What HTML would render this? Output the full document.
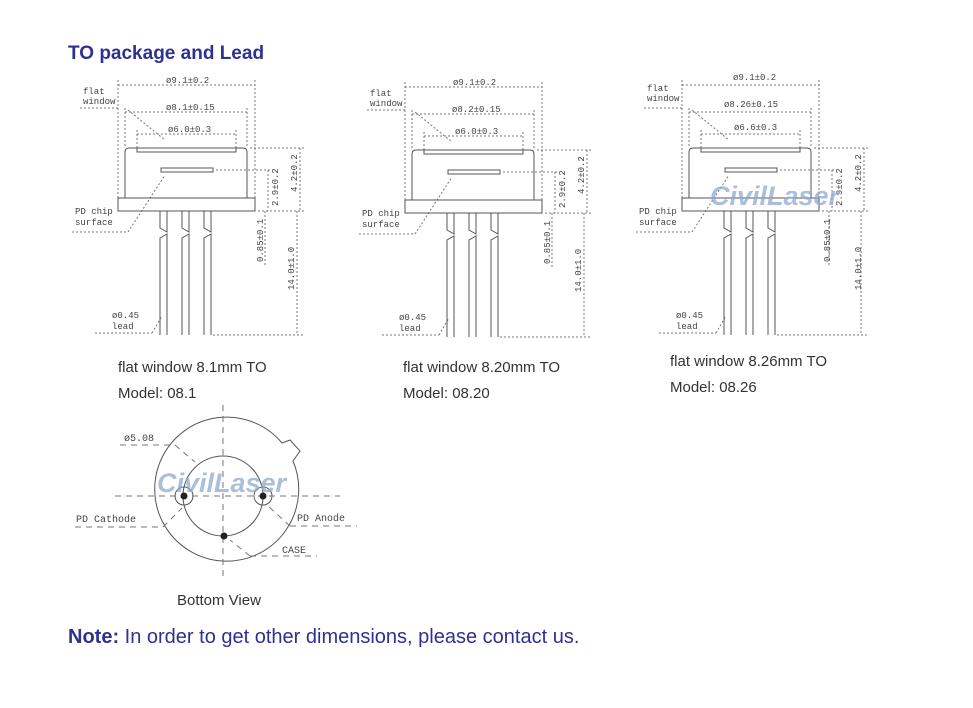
<!DOCTYPE html>
<html><head><meta charset="utf-8"><style>
body{margin:0;background:#fff;width:973px;height:708px;overflow:hidden;font-family:"Liberation Sans",sans-serif}
svg{position:absolute;left:0;top:0}
.t{font-family:"Liberation Mono",monospace;font-size:9px;fill:#444}
.c{font-family:"Liberation Sans",sans-serif;font-size:15px;fill:#333}
.wm{font-family:"Liberation Sans",sans-serif;font-size:27px;font-weight:bold;font-style:italic;fill:#8fa9cf;opacity:.75}
</style></head><body>
<svg width="973" height="708" viewBox="0 0 973 708">
<defs>
<g id="pkg" fill="none" stroke="#555" stroke-width="1">
 <g stroke-dasharray="2,2" stroke="#777">
  <line x1="118" y1="85" x2="255" y2="85"/><line x1="118" y1="80" x2="118" y2="198"/><line x1="255" y1="80" x2="255" y2="198"/>
  <line x1="125" y1="112" x2="247" y2="112"/><line x1="125" y1="108" x2="125" y2="148"/><line x1="247" y1="108" x2="247" y2="148"/>
  <line x1="137" y1="134" x2="236" y2="134"/><line x1="137" y1="130" x2="137" y2="148"/><line x1="236" y1="130" x2="236" y2="148"/>
  <line x1="80" y1="108" x2="118" y2="108"/><line x1="128" y1="110" x2="165" y2="140"/>
  <line x1="250" y1="148" x2="305" y2="148"/><line x1="216" y1="170" x2="272" y2="170"/><line x1="258" y1="211" x2="305" y2="211"/>
  <line x1="300" y1="148" x2="300" y2="211"/><line x1="268" y1="170" x2="268" y2="211"/>
  <line x1="265" y1="211" x2="265" y2="266"/><line x1="297" y1="211" x2="297" y2="335"/>
  <line x1="213" y1="335" x2="305" y2="335"/>
  <line x1="72" y1="232" x2="128" y2="232"/><line x1="128" y1="232" x2="165" y2="175"/>
  <line x1="95" y1="333" x2="152" y2="333"/><line x1="152" y1="333" x2="162" y2="316"/>
 </g>
 <path d="M125 198 V152 Q125 148 129 148 H243 Q247 148 247 152 V198"/>
 <rect x="137" y="148" width="99" height="4"/>
 <rect x="161" y="168" width="52" height="4"/>
 <rect x="118" y="198" width="137" height="13"/>
 <path d="M160 211V228l7 4V211M182 211V228l7 4V211M204 211V228l7 4V211"/>
 <path d="M160 335V238l7 -4V335M182 335V238l7 -4V335M204 335V238l7 -4V335"/>
</g>
</defs>
<text x="68" y="59" font-size="19" font-weight="bold" fill="#2e3192">TO package and Lead</text>

<use href="#pkg"/>
<use href="#pkg" transform="translate(287,2)"/>
<use href="#pkg" transform="translate(564,0)"/>

<g class="t">
<text x="83" y="94">flat</text><text x="83" y="104">window</text>
<text x="166" y="83">ø9.1±0.2</text><text x="166" y="110">ø8.1±0.15</text><text x="168" y="132">ø6.0±0.3</text>
<text x="75" y="214">PD chip</text><text x="75" y="225">surface</text>
<text x="112" y="318">ø0.45</text><text x="112" y="329">lead</text>
<text transform="translate(297,192) rotate(-90)">4.2±0.2</text>
<text transform="translate(278,206) rotate(-90)">2.9±0.2</text>
<text transform="translate(263,262) rotate(-90)">0.85±0.1</text>
<text transform="translate(294,290) rotate(-90)">14.0±1.0</text>

<text x="370" y="96">flat</text><text x="370" y="106">window</text>
<text x="453" y="85">ø9.1±0.2</text><text x="452" y="112">ø8.2±0.15</text><text x="455" y="134">ø6.0±0.3</text>
<text x="362" y="216">PD chip</text><text x="362" y="227">surface</text>
<text x="399" y="320">ø0.45</text><text x="399" y="331">lead</text>
<text transform="translate(584,194) rotate(-90)">4.2±0.2</text>
<text transform="translate(565,208) rotate(-90)">2.9±0.2</text>
<text transform="translate(550,264) rotate(-90)">0.85±0.1</text>
<text transform="translate(581,292) rotate(-90)">14.0±1.0</text>

<text x="647" y="91">flat</text><text x="647" y="101">window</text>
<text x="733" y="80">ø9.1±0.2</text><text x="724" y="107">ø8.26±0.15</text><text x="734" y="130">ø6.6±0.3</text>
<text x="639" y="214">PD chip</text><text x="639" y="225">surface</text>
<text x="676" y="318">ø0.45</text><text x="676" y="329">lead</text>
<text transform="translate(861,192) rotate(-90)">4.2±0.2</text>
<text transform="translate(842,206) rotate(-90)">2.9±0.2</text>
<text transform="translate(830,262) rotate(-90)">0.85±0.1</text>
<text transform="translate(861,290) rotate(-90)">14.0±1.0</text>
</g>
<text class="wm" x="710" y="205">CivilLaser</text>

<text class="c" x="118" y="372">flat window 8.1mm TO</text>
<text class="c" x="118" y="398">Model: 08.1</text>
<text class="c" x="403" y="372">flat window 8.20mm TO</text>
<text class="c" x="403" y="398">Model: 08.20</text>
<text class="c" x="670" y="366">flat window 8.26mm TO</text>
<text class="c" x="670" y="392">Model: 08.26</text>

<g fill="none" stroke="#555" stroke-width="1">
 <path d="M282 443 A72 72 0 1 0 293 461 L300 451 L290 440 L282 443" fill="#fff"/>
 <circle cx="223" cy="496" r="40"/>
 <circle cx="184" cy="496" r="9"/><circle cx="263" cy="496" r="9"/>
 <g stroke-dasharray="6,5" stroke="#777">
  <line x1="223" y1="405" x2="223" y2="580"/><line x1="115" y1="496" x2="340" y2="496"/>
  <line x1="120" y1="445" x2="175" y2="445"/><line x1="175" y1="445" x2="195" y2="462"/>
  <line x1="75" y1="527" x2="163" y2="527"/><line x1="163" y1="527" x2="182" y2="508"/>
  <line x1="290" y1="526" x2="357" y2="526"/><line x1="290" y1="526" x2="268" y2="506"/>
  <line x1="250" y1="556" x2="317" y2="556"/><line x1="250" y1="556" x2="230" y2="540"/>
 </g>
</g>
<g fill="#222"><circle cx="184" cy="496" r="3.5"/><circle cx="263" cy="496" r="3.5"/><circle cx="224" cy="536" r="3.5"/></g>
<g class="t">
<text x="124" y="441" style="font-size:10px">ø5.08</text>
<text x="76" y="522" style="font-size:10px">PD Cathode</text>
<text x="297" y="521" style="font-size:10px">PD Anode</text>
<text x="282" y="553" style="font-size:10px">CASE</text>
</g>
<text class="wm" x="157" y="492">CivilLaser</text>
<text class="c" x="177" y="605">Bottom View</text>

<text x="68" y="643" font-size="20" fill="#2e3192"><tspan font-weight="bold">Note:</tspan> In order to get other dimensions, please contact us.</text>
</svg>
</body></html>
